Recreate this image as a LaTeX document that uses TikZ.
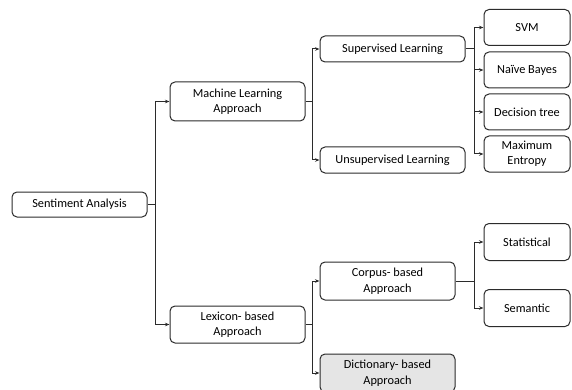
\documentclass[tikz,border=0pt]{standalone}
\usepackage{fontspec}
\setmainfont{Carlito}
\usetikzlibrary{arrows.meta}
\definecolor{ink}{HTML}{2B2B2B}
\tikzset{
  box/.style={draw=ink, line width=1pt, rounded corners=5pt, fill=white,
    align=center, inner sep=1pt, font=\fontsize{12.3}{15.5}\selectfont, text=black},
  link/.style={draw=ink, line width=1pt},
  arr/.style={link, -{Stealth[length=4.5pt,width=3.5pt]}}
}
\begin{document}
\begin{tikzpicture}[x=1pt,y=-1pt]
\useasboundingbox (0,0) rectangle (572,390);

% left column
\node[box, minimum width=135pt, minimum height=25pt] (sa) at (79.5,204.5) {Sentiment Analysis};

% second column
\node[box, minimum width=135pt, minimum height=39pt] (ml) at (237.5,101.5) {Machine Learning\\Approach};
\node[box, minimum width=135pt, minimum height=37pt] (lex) at (237.5,324.5) {Lexicon- based\\Approach};

% third column
\node[box, minimum width=145pt, minimum height=26pt] (sup) at (392.5,49) {Supervised Learning};
\node[box, minimum width=145pt, minimum height=26pt] (uns) at (392.5,160) {Unsupervised Learning};
\node[box, minimum width=135pt, minimum height=38pt] (corp) at (387.5,281) {Corpus- based\\Approach};
\node[box, minimum width=135pt, minimum height=38pt, fill=black!10] (dict) at (387.5,373) {Dictionary- based\\Approach};

% fourth column
\node[box, minimum width=86pt, minimum height=36pt] (svm) at (527,27.5) {SVM};
\node[box, minimum width=86pt, minimum height=36pt] (nb) at (527,70) {Naïve Bayes};
\node[box, minimum width=86pt, minimum height=36pt] (dt) at (527,112) {Decision tree};
\node[box, minimum width=86pt, minimum height=36pt] (me) at (527,154) {Maximum\\Entropy};
\node[box, minimum width=86pt, minimum height=37pt] (stat) at (527,242) {Statistical};
\node[box, minimum width=86pt, minimum height=37pt] (sem) at (527,308) {Semantic};

% connectors
\draw[link] (sa.east) -- ++(8,0) coordinate (j1);
\draw[arr] (j1) |- (ml.west);
\draw[arr] (j1) |- (lex.west);

\draw[link] (ml.east) -- ++(7,0) coordinate (j2);
\draw[arr] (j2) |- (sup.west);
\draw[arr] (j2) |- (uns.west);

\draw[link] (sup.east) -- ++(9,0) coordinate (j3);
\draw[arr] (j3) |- (svm.west);
\draw[arr] (j3) |- (nb.west);
\draw[arr] (j3) |- (dt.west);
\draw[arr] (j3) |- (me.west);

\draw[link] (lex.east) -- ++(7,0) coordinate (j4);
\draw[arr] (j4) |- (corp.west);
\draw[arr] (j4) |- (dict.west);

\draw[link] (corp.east) -- ++(19,0) coordinate (j5);
\draw[arr] (j5) |- (stat.west);
\draw[arr] (j5) |- (sem.west);
\end{tikzpicture}
\end{document}
